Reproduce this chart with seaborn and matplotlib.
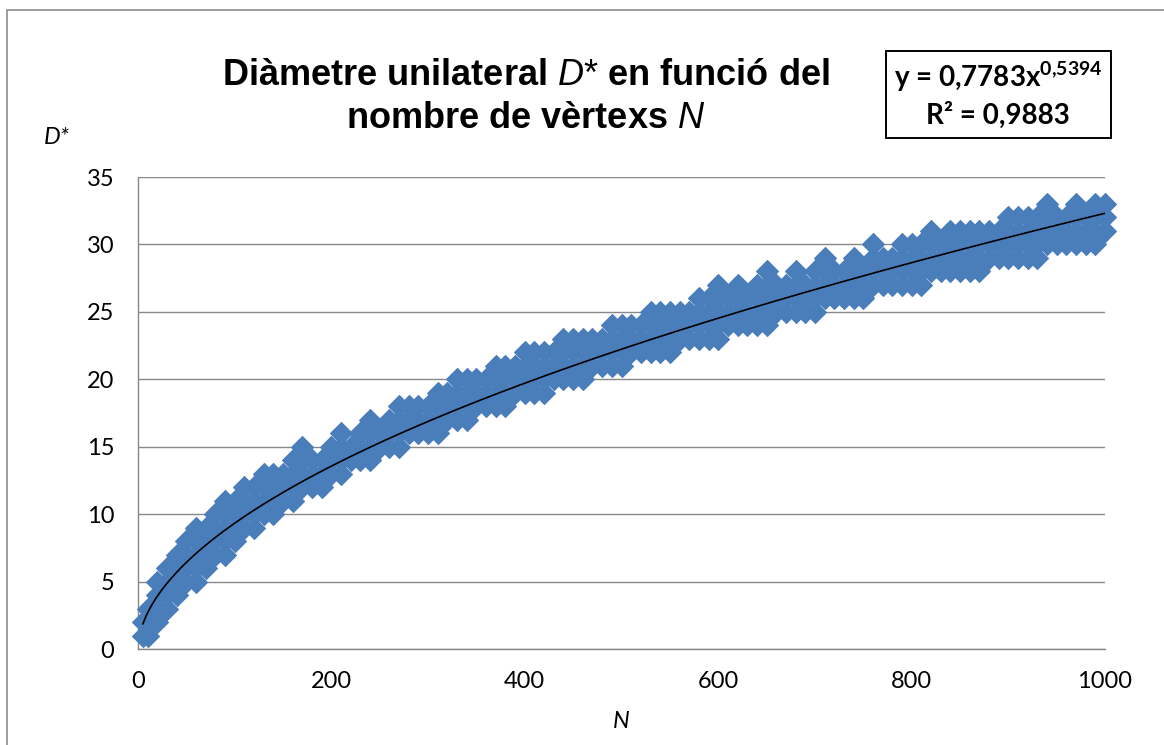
import numpy as np
import pandas as pd
import seaborn as sns
import matplotlib.pyplot as plt
from matplotlib.patches import Rectangle

### Data (lowest and highest D* level of the marker band at each N)
n_vals = [5] + list(range(10, 1001, 10))

d_low = [1, 1, 2, 3, 4, 5, 5, 6, 7, 7, 8,
         9, 9, 10, 10, 11, 11, 12, 12, 12, 13,
         13, 14, 14, 14, 15, 15, 15, 16, 16, 16,
         16, 17, 17, 17, 18, 18, 18, 18, 19, 19,
         19, 19, 20, 20, 20, 20, 21, 21, 21, 21,
         22, 22, 22, 22, 22, 23, 23, 23, 23, 23,
         24, 24, 24, 24, 24, 25, 25, 25, 25, 25,
         26, 26, 26, 26, 26, 27, 27, 27, 27, 27,
         27, 28, 28, 28, 28, 28, 28, 29, 29, 29,
         29, 29, 29, 30, 30, 30, 30, 30, 30, 31]

d_high = [2, 3, 5, 6, 7, 8, 9, 9, 10, 11, 11,
          12, 12, 13, 13, 13, 14, 15, 14, 14, 15,
          16, 15, 16, 17, 16, 17, 18, 18, 18, 18,
          19, 19, 20, 20, 20, 20, 21, 21, 21, 22,
          22, 22, 22, 23, 23, 23, 23, 23, 24, 24,
          24, 24, 25, 25, 25, 25, 25, 26, 26, 27,
          26, 27, 26, 27, 28, 27, 27, 28, 27, 28,
          29, 28, 28, 29, 28, 30, 29, 29, 30, 30,
          30, 31, 30, 31, 31, 31, 31, 31, 31, 32,
          32, 32, 32, 33, 32, 32, 33, 32, 33, 33]

# trendline shown on the chart
fit_a = 0.7783
fit_b = 0.5394
fit_r2 = 0.9883

x_ticks = [0, 200, 400, 600, 800, 1000]
y_ticks = [0, 5, 10, 15, 20, 25, 30, 35]

rows = [(n, d) for n, lo, hi in zip(n_vals, d_low, d_high) for d in range(lo, hi + 1)]
df = pd.DataFrame(rows, columns=['N', 'D'])

### Style
sns.set_theme(style='white')
plt.rcParams['font.family'] = ['Lato', 'DejaVu Sans']
plt.rcParams['text.color'] = 'black'
plt.rcParams['mathtext.fontset'] = 'custom'
plt.rcParams['mathtext.rm'] = 'Liberation Sans'
plt.rcParams['mathtext.it'] = 'Liberation Sans:italic'
plt.rcParams['mathtext.bf'] = 'Lato:bold'

W, H = 1164, 745
grid_col = '#888888'
blue = '#4a7ebb'

fig = plt.figure(figsize=(W / 100, H / 100), dpi=100)
fig.patch.set_facecolor('white')
ax = fig.add_axes([138 / W, 1 - 649 / H, (1105 - 138) / W, (649 - 177) / H])

sns.scatterplot(data=df, x='N', y='D', marker='D', s=125, color=blue,
                edgecolor=blue, linewidth=0.8, ax=ax, clip_on=False, zorder=3)

xs = np.linspace(5, 1000, 300)
ax.plot(xs, fit_a * xs ** fit_b, color='black', lw=1.2, zorder=4)

ax.set_xlim(0, 1000)
ax.set_ylim(0, 35)
ax.set_xticks(x_ticks)
ax.set_yticks(y_ticks)
ax.set_xlabel('')
ax.set_ylabel('')
ax.yaxis.grid(True, color=grid_col, lw=1.0)
ax.xaxis.grid(False)
ax.set_axisbelow(True)
for side in ['top', 'right']:
    ax.spines[side].set_visible(False)
for side in ['left', 'bottom']:
    ax.spines[side].set_color(grid_col)
    ax.spines[side].set_linewidth(1.0)
ax.tick_params(axis='both', direction='out', length=6, width=1.0, color=grid_col,
               labelsize=17, labelcolor='black')
ax.tick_params(axis='y', pad=11)
ax.tick_params(axis='x', pad=10)

### Texts
fig.text(526 / W, 1 - 85 / H, 'Diàmetre unilateral $D{*}$ en funció del', ha='center',
         va='baseline', fontsize=26, fontweight='bold', family='Liberation Sans')
fig.text(526 / W, 1 - 128 / H, 'nombre de vèrtexs $N$', ha='center',
         va='baseline', fontsize=26, fontweight='bold', family='Liberation Sans')

fig.add_artist(Rectangle((886 / W, 1 - 138 / H), 225 / W, 87 / H, transform=fig.transFigure,
                         fill=False, edgecolor='black', lw=1.4))
eq = 'y = {}x'.format(str(fit_a).replace('.', ',')) + \
     r'$^{\mathbf{' + str(fit_b).replace('.', '{,}') + '}}$'
fig.text(998 / W, 1 - 87 / H, eq, ha='center', va='baseline', fontsize=20, fontweight='bold')
fig.text(998 / W, 1 - 124 / H, 'R² = {}'.format(str(fit_r2).replace('.', ',')), ha='center',
         va='baseline', fontsize=20, fontweight='bold')

fig.text(57 / W, 1 - 137 / H, 'D*', ha='center', va='center', fontsize=17, style='italic')
fig.text(621 / W, 1 - 722 / H, 'N', ha='center', va='center', fontsize=17, style='italic')

# outer chart border
fig.add_artist(Rectangle((7 / W, -0.05), 1.0, 1 - 10 / H + 0.05, transform=fig.transFigure,
                         fill=False, edgecolor='#8c8c8c', lw=1.2))

fig.savefig('out.png', dpi=100)
plt.close()
